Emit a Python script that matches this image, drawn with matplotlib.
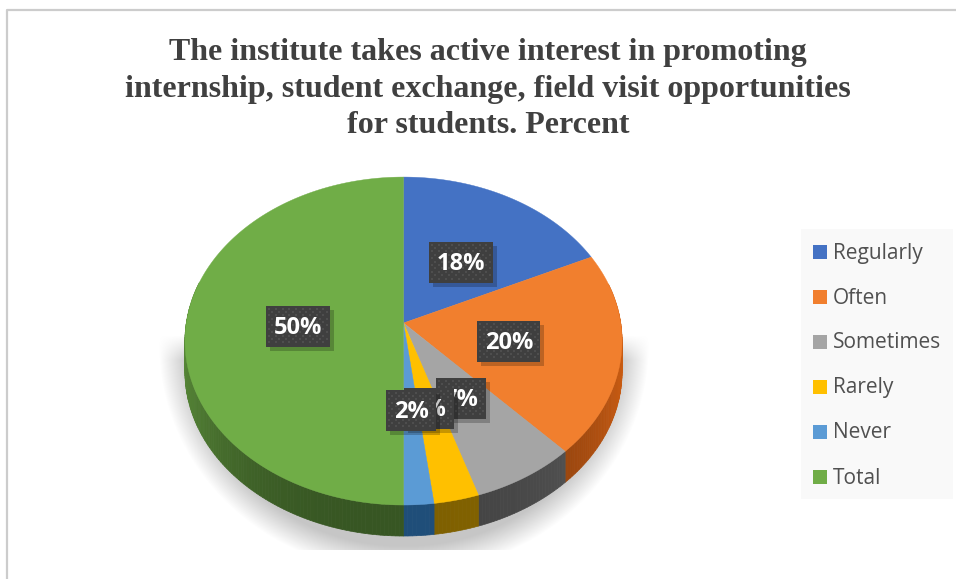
import numpy as np
import matplotlib
matplotlib.use("Agg")
import matplotlib.pyplot as plt
from matplotlib.patches import Polygon, Rectangle

categorias = ["Regularly", "Often", "Sometimes", "Rarely", "Never", "Total"]
valores = [18, 20, 7, 3, 2, 50]
rotulos = ["18%", "20%", "7%", "3%", "2%", "50%"]
cores = ["#4472c4", "#f17f2e", "#a5a5a5", "#ffc000", "#5b9bd5", "#70ad47"]
cores_lado = ["#203864", "#843c0c", "#444444", "#7f6000", "#1f4e79", "#375623"]
linhas_titulo = ["The institute takes active interest in promoting",
                 "internship, student exchange, field visit opportunities",
                 "for students. Percent"]

# Centros das caixas dos rotulos, colocados a mao como no original
centros_rotulos = [(461, 262), (509, 341), (461, 398), (429, 408), (411, 410), (298, 326)]
larguras_rotulos = [64, 63, 50, 50, 50, 64]

# Geometria da pizza em pixels
CX, CY = 403.5, 323
A, B, K = 217.2, 162, 0.11
PROFUNDIDADE = 31


def projetar(angulo):
    # Perspectiva simples: o fundo da pizza fica menor que a frente
    u = np.sin(angulo)
    v = np.cos(angulo)
    w = 1 + K * v
    return CX + A * u / w, CY - B * v / w


figura = plt.figure(figsize=(9.56, 5.79), dpi=100)
eixo = figura.add_axes([0, 0, 1, 1])
eixo.set_xlim(0, 956)
eixo.set_ylim(579, 0)
eixo.axis("off")

# Moldura do grafico
eixo.plot([7.5, 7.5, 956], [579, 10, 10], color="#cccccc", lw=1.6, zorder=1)

# Sombra difusa embaixo da pizza
xs, ys = np.meshgrid(np.arange(150, 660), np.arange(330, 550))
dist = np.sqrt(((xs - 403.5) / 245) ** 2 + ((ys - 345) / 228) ** 2)
alfa = np.clip((1.0 - dist) / 0.12, 0, 1) * np.clip((ys - 335) / 25, 0, 1)
sombra = np.zeros(xs.shape + (4,))
sombra[..., :3] = 0.78
sombra[..., 3] = alfa
eixo.imshow(sombra, extent=(150, 660, 550, 330), zorder=2, aspect="auto")
eixo.set_xlim(0, 956)
eixo.set_ylim(579, 0)

# Lateral e topo, fatia por fatia
limites = np.cumsum([0] + valores) / sum(valores) * 2 * np.pi
for i, nome in enumerate(categorias):
    angulos = np.linspace(limites[i], limites[i + 1], max(4, int(valores[i] * 4)))
    cor_lado = np.array(matplotlib.colors.to_rgb(cores_lado[i]))
    for a0, a1 in zip(angulos[:-1], angulos[1:]):
        if np.cos((a0 + a1) / 2) > 0.25:
            continue
        x0, y0 = projetar(a0)
        x1, y1 = projetar(a1)
        # Fica mais claro nas bordas, mais escuro na frente
        luz = 1 + 0.55 * abs(np.sin((a0 + a1) / 2)) ** 3
        cor = np.clip(cor_lado * luz, 0, 1)
        eixo.add_patch(Polygon([(x0, y0), (x1, y1), (x1, y1 + PROFUNDIDADE), (x0, y0 + PROFUNDIDADE)],
                               closed=True, facecolor=cor, edgecolor=cor, lw=0.5, zorder=3))

for i, nome in enumerate(categorias):
    angulos = np.linspace(limites[i], limites[i + 1], max(4, int(valores[i] * 4)))
    px, py = projetar(angulos)
    pontos = [(CX, CY)] + list(zip(px, py))
    eixo.add_patch(Polygon(pontos, closed=True, facecolor=cores[i], edgecolor=cores[i], lw=0.3, zorder=4))

# Rotulos escuros com pontilhado
for i, texto in enumerate(rotulos):
    cx, cy = centros_rotulos[i]
    larg = larguras_rotulos[i]
    alt = 41
    x0, y0 = cx - larg / 2, cy - alt / 2
    zb = 5 + i * 0.1
    eixo.add_patch(Rectangle((x0 + 4, y0 + 4), larg, alt, facecolor="black", alpha=0.22, lw=0, zorder=zb))
    eixo.add_patch(Rectangle((x0, y0), larg, alt, facecolor="#3f3f3f", lw=0, zorder=zb + 0.01))
    gx, gy = [], []
    for l, yy in enumerate(np.arange(y0 + 3, y0 + alt - 1, 3.4)):
        for xx in np.arange(x0 + 3 + (l % 2) * 3.4, x0 + larg - 1, 6.8):
            gx.append(xx)
            gy.append(yy)
    eixo.scatter(gx, gy, s=3.5, marker="s", color="#4e4e4e", lw=0, zorder=zb + 0.02)
    eixo.text(cx, cy + 2, texto, color="white", fontsize=17, fontweight="bold",
              family="Open Sans", ha="center", va="center", zorder=zb + 0.03)

# Legenda
eixo.add_patch(Rectangle((801, 229), 152, 270, facecolor="#f9f9f9", lw=0, zorder=2))
for i, nome in enumerate(categorias):
    y = 252 + 45 * i
    eixo.add_patch(Rectangle((813, y - 7), 14, 14, facecolor=cores[i], lw=0, zorder=3))
    eixo.text(833, y + 1, nome, color="#505050", fontsize=15, family="Open Sans",
              ha="left", va="center", zorder=3)

# Titulo
for i, linha in enumerate(linhas_titulo):
    eixo.text(488, 52.5 + 36.5 * i, linha, color="#404040", fontsize=23, fontweight="bold",
              family="Liberation Serif", ha="center", va="center", zorder=3)

figura.savefig("out.png", dpi=100)
